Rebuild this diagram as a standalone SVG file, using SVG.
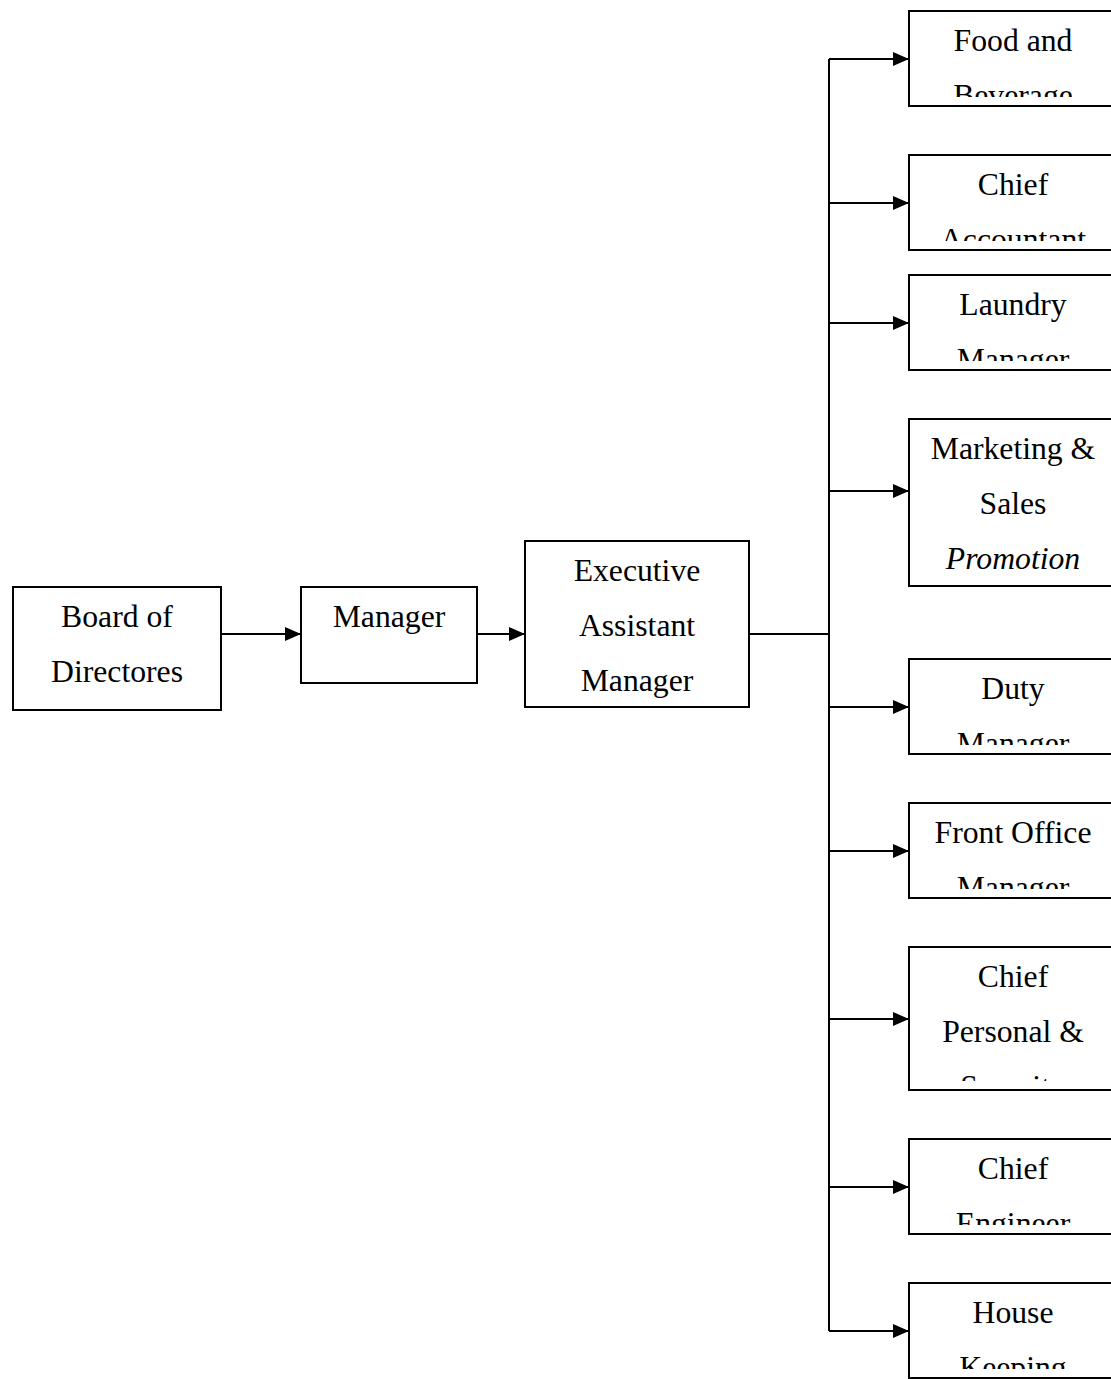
<svg xmlns="http://www.w3.org/2000/svg" width="1111" height="1379" viewBox="0 0 1111 1379">
<style>
.box{fill:#fff;stroke:#000;stroke-width:2}
text{font-family:'Liberation Serif','Times New Roman',Tinos,'DejaVu Serif',serif;font-size:31.7px;fill:#000;text-anchor:middle}
.i{font-style:italic}
.c{fill:none;stroke:#000;stroke-width:2}
</style>
<defs>
<marker id="ah" markerUnits="userSpaceOnUse" markerWidth="16" markerHeight="14" refX="16" refY="7" orient="auto">
<path d="M0,0 L16,7 L0,14 z" fill="#000"/>
</marker>
<clipPath id="k1"><rect x="909" y="11" width="210" height="86"/></clipPath>
<clipPath id="k2"><rect x="909" y="155" width="210" height="86"/></clipPath>
<clipPath id="k3"><rect x="909" y="275" width="210" height="86"/></clipPath>
<clipPath id="k5"><rect x="909" y="659" width="210" height="86"/></clipPath>
<clipPath id="k6"><rect x="909" y="803" width="210" height="86"/></clipPath>
<clipPath id="k7"><rect x="909" y="947" width="210" height="134"/></clipPath>
<clipPath id="k8"><rect x="909" y="1139" width="210" height="86"/></clipPath>
<clipPath id="k9"><rect x="909" y="1283" width="210" height="86"/></clipPath>
</defs>
<rect width="1111" height="1379" fill="#fff"/>
<g id="connectors">
<line class="c" x1="221" y1="634" x2="301" y2="634" marker-end="url(#ah)"/>
<line class="c" x1="477" y1="634" x2="525" y2="634" marker-end="url(#ah)"/>
<line class="c" x1="749" y1="634" x2="829" y2="634"/>
<line class="c" x1="829" y1="59" x2="829" y2="1331"/>
<line class="c" x1="829" y1="59" x2="909" y2="59" marker-end="url(#ah)"/>
<line class="c" x1="829" y1="203" x2="909" y2="203" marker-end="url(#ah)"/>
<line class="c" x1="829" y1="323" x2="909" y2="323" marker-end="url(#ah)"/>
<line class="c" x1="829" y1="491" x2="909" y2="491" marker-end="url(#ah)"/>
<line class="c" x1="829" y1="707" x2="909" y2="707" marker-end="url(#ah)"/>
<line class="c" x1="829" y1="851" x2="909" y2="851" marker-end="url(#ah)"/>
<line class="c" x1="829" y1="1019" x2="909" y2="1019" marker-end="url(#ah)"/>
<line class="c" x1="829" y1="1187" x2="909" y2="1187" marker-end="url(#ah)"/>
<line class="c" x1="829" y1="1331" x2="909" y2="1331" marker-end="url(#ah)"/>
</g>
<g id="board">
<rect class="box" x="13" y="587" width="208" height="123"/>
<text x="117" y="627">Board of</text>
<text x="117" y="682">Directores</text>
</g>
<g id="manager">
<rect class="box" x="301" y="587" width="176" height="96"/>
<text x="389" y="627">Manager</text>
</g>
<g id="exec">
<rect class="box" x="525" y="541" width="224" height="166"/>
<text x="637" y="581">Executive</text>
<text x="637" y="636">Assistant</text>
<text x="637" y="691">Manager</text>
</g>
<g id="food">
<rect class="box" x="909" y="11" width="208" height="95"/>
<g clip-path="url(#k1)"><text x="1013" y="51">Food and</text><text x="1013" y="106">Beverage</text></g>
</g>
<g id="accountant">
<rect class="box" x="909" y="155" width="208" height="95"/>
<g clip-path="url(#k2)"><text x="1013" y="195">Chief</text><text x="1013" y="250">Accountant</text></g>
</g>
<g id="laundry">
<rect class="box" x="909" y="275" width="208" height="95"/>
<g clip-path="url(#k3)"><text x="1013" y="315">Laundry</text><text x="1013" y="370">Manager</text></g>
</g>
<g id="marketing">
<rect class="box" x="909" y="419" width="208" height="167"/>
<text x="1013" y="459">Marketing &amp;</text>
<text x="1013" y="514">Sales</text>
<text class="i" x="1013" y="569">Promotion</text>
</g>
<g id="duty">
<rect class="box" x="909" y="659" width="208" height="95"/>
<g clip-path="url(#k5)"><text x="1013" y="699">Duty</text><text x="1013" y="754">Manager</text></g>
</g>
<g id="frontoffice">
<rect class="box" x="909" y="803" width="208" height="95"/>
<g clip-path="url(#k6)"><text x="1013" y="843">Front Office</text><text x="1013" y="898">Manager</text></g>
</g>
<g id="personal">
<rect class="box" x="909" y="947" width="208" height="143"/>
<g clip-path="url(#k7)"><text x="1013" y="987">Chief</text><text x="1013" y="1042">Personal &amp;</text><text x="1013" y="1097">Security</text></g>
</g>
<g id="engineer">
<rect class="box" x="909" y="1139" width="208" height="95"/>
<g clip-path="url(#k8)"><text x="1013" y="1179">Chief</text><text x="1013" y="1234">Engineer</text></g>
</g>
<g id="housekeeping">
<rect class="box" x="909" y="1283" width="208" height="95"/>
<g clip-path="url(#k9)"><text x="1013" y="1323">House</text><text x="1013" y="1378">Keeping</text></g>
</g>
</svg>
